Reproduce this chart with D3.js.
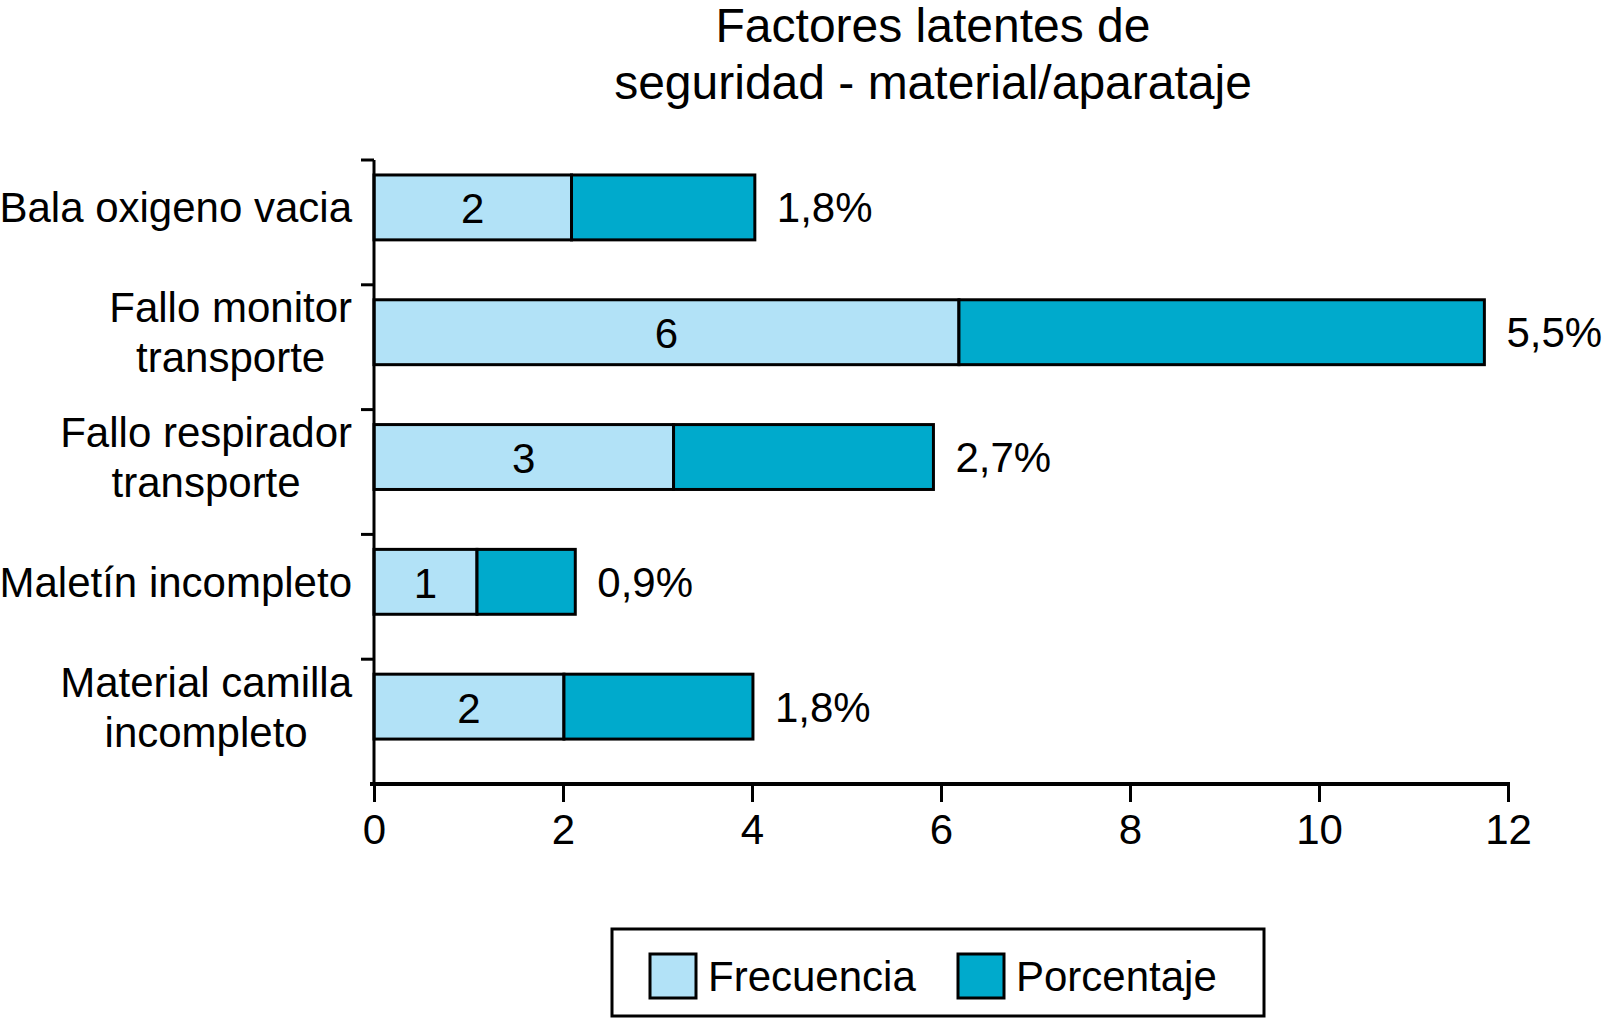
<!DOCTYPE html>
<html>
<head>
<meta charset="utf-8">
<script src="https://cdn.jsdelivr.net/npm/d3@7"></script>
<style>
  body { margin: 0; background: #fff; }
  svg { display: block; font-family: "Liberation Sans", Arial, sans-serif; }
</style>
</head>
<body>
<svg id="chart" width="1614" height="1019"></svg>
<script>
// values
const categories = [
  ['Bala oxigeno vacia'],
  ['Fallo monitor', 'transporte'],
  ['Fallo respirador', 'transporte'],
  ['Maletín incompleto'],
  ['Material camilla', 'incompleto']
]
const frecuencia = [2.09, 6.19, 3.17, 1.09, 2.01]
const porcentaje = [1.94, 5.56, 2.75, 1.04, 2.0]
const freqLabels = ['2', '6', '3', '1', '2']
const pctLabels = ['1,8%', '5,5%', '2,7%', '0,9%', '1,8%']
const xTicks = [0, 2, 4, 6, 8, 10, 12]
const titleLines = ['Factores latentes de', 'seguridad - material/aparataje']
const legendItems = ['Frecuencia', 'Porcentaje']

const colLight = '#b2e2f7'
const colDark = '#00aacc'

const svg = d3.select('#chart')
const plotLeft = 374, plotRight = 1508, plotTop = 160, plotBottom = 784

const x = d3.scaleLinear().domain([0, 12]).range([plotLeft, plotRight])
const y = d3.scaleBand().domain(d3.range(categories.length)).range([plotTop, plotBottom])
const bw = y.bandwidth()

// title
svg.append('g').selectAll('text')
  .data(titleLines)
  .join('text')
  .attr('x', 933)
  .attr('y', (d, i) => 42 + i * 57)
  .attr('text-anchor', 'middle')
  .attr('font-size', 48)
  .text(d => d)

// bars
const rows = svg.append('g').selectAll('g')
  .data(categories.map((c, i) => ({ c, i, f: frecuencia[i], p: porcentaje[i] })))
  .join('g')

const barY = d => y(d.i) + bw * 0.12
const barH = bw * 0.52

rows.append('rect')
  .attr('x', x(0))
  .attr('y', barY)
  .attr('width', d => x(d.f) - x(0))
  .attr('height', barH)
  .attr('fill', colLight)
  .attr('stroke', '#000')
  .attr('stroke-width', 3)

rows.append('rect')
  .attr('x', d => x(d.f))
  .attr('y', barY)
  .attr('width', d => x(d.f + d.p) - x(d.f))
  .attr('height', barH)
  .attr('fill', colDark)
  .attr('stroke', '#000')
  .attr('stroke-width', 3)

rows.append('text')
  .attr('x', d => (x(0) + x(d.f)) / 2)
  .attr('y', d => barY(d) + barH / 2 + 16)
  .attr('text-anchor', 'middle')
  .attr('font-size', 42)
  .text(d => freqLabels[d.i])

rows.append('text')
  .attr('x', d => x(d.f + d.p) + 22)
  .attr('y', d => barY(d) + barH / 2 + 15)
  .attr('font-size', 42)
  .text(d => pctLabels[d.i])

// category labels: block right-aligned, lines centred
rows.each(function (d) {
  const g = d3.select(this)
  const cy = barY(d) + barH / 2
  const n = d.c.length
  const texts = g.selectAll('text.cat')
    .data(d.c)
    .join('text')
    .attr('class', 'cat')
    .attr('font-size', 42)
    .attr('text-anchor', 'middle')
    .attr('y', (t, k) => cy + 15 + (k - (n - 1) / 2) * 50)
    .text(t => t)
  let maxW = 0
  texts.each(function () { maxW = Math.max(maxW, this.getComputedTextLength()) })
  texts.attr('x', 352 - maxW / 2)
})

// y axis
svg.append('line')
  .attr('x1', plotLeft).attr('x2', plotLeft)
  .attr('y1', plotTop).attr('y2', plotBottom)
  .attr('stroke', '#000').attr('stroke-width', 3)

svg.append('g').selectAll('line')
  .data(d3.range(categories.length))
  .join('line')
  .attr('x1', plotLeft - 13).attr('x2', plotLeft)
  .attr('y1', d => y(d)).attr('y2', d => y(d))
  .attr('stroke', '#000').attr('stroke-width', 3)

// x axis
const xAxis = svg.append('g')
  .attr('transform', `translate(0,${plotBottom})`)
  .call(d3.axisBottom(x).tickValues(xTicks).tickSize(18).tickPadding(12).tickSizeOuter(0))

xAxis.select('.domain')
  .attr('stroke-width', 4)
  .attr('d', `M${plotLeft - 4},0H${plotRight + 2}`)
xAxis.selectAll('.tick line').attr('stroke-width', 3)
xAxis.selectAll('.tick text')
  .attr('font-size', 42)
  .attr('font-family', '"Liberation Sans", Arial, sans-serif')
  .attr('fill', '#000')

// legend
const lg = svg.append('g')
lg.append('rect')
  .attr('x', 612).attr('y', 929)
  .attr('width', 652).attr('height', 87)
  .attr('fill', '#fff')
  .attr('stroke', '#000').attr('stroke-width', 3)

const legX = [650, 958]
const li = lg.selectAll('g.item')
  .data(legendItems)
  .join('g')
  .attr('class', 'item')
  .attr('transform', (d, i) => `translate(${legX[i]},954)`)

li.append('rect')
  .attr('width', 46).attr('height', 44)
  .attr('fill', (d, i) => i === 0 ? colLight : colDark)
  .attr('stroke', '#000').attr('stroke-width', 3)

li.append('text')
  .attr('x', 58).attr('y', 37)
  .attr('font-size', 42)
  .text(d => d)
</script>
</body>
</html>
